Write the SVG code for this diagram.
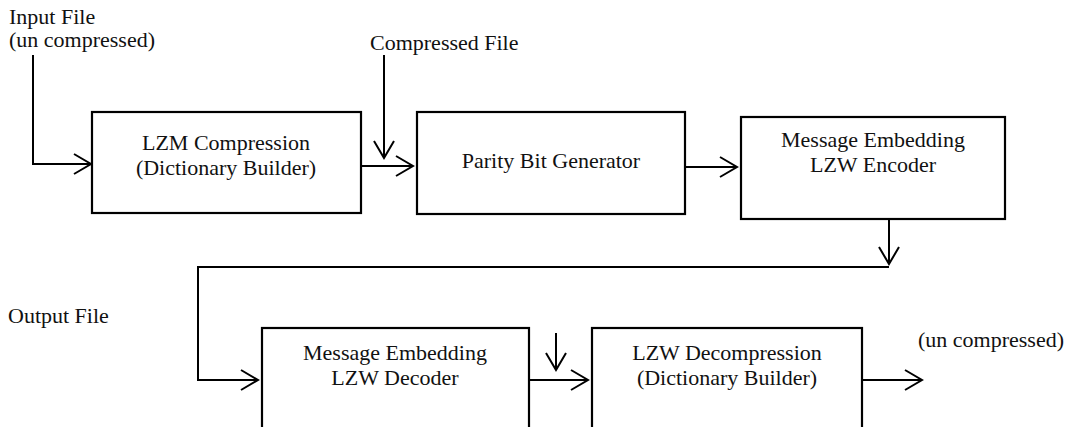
<svg xmlns="http://www.w3.org/2000/svg" width="1070" height="427" viewBox="0 0 1070 427">
  <style>
    .box { fill: #fff; stroke: #000; stroke-width: 2.2; }
    .wire { fill: none; stroke: #000; stroke-width: 2; }
    text { font-family: "Liberation Serif", "Times New Roman", serif; font-size: 22px; fill: #111; }
    .c { text-anchor: middle; }
  </style>
  <defs>
    <marker id="arrow" markerUnits="userSpaceOnUse" markerWidth="20" markerHeight="24" viewBox="-18 -12 20 24" refX="0" refY="0" orient="auto">
      <path d="M-17,-10 L0,0 L-17,10" fill="none" stroke="#000" stroke-width="2"/>
    </marker>
  </defs>
  <rect width="1070" height="427" fill="#fff"/>

  <!-- free labels -->
  <g id="labels">
    <text x="9" y="24">Input File</text>
    <text x="9" y="47">(un compressed)</text>
    <text x="370" y="50">Compressed File</text>
    <text x="8" y="323">Output File</text>
    <text x="918" y="347">(un compressed)</text>
  </g>

  <g id="lzm-compression">
    <rect class="box" x="92" y="112" width="269" height="101"/>
    <text class="c" x="226" y="150">LZM Compression</text>
    <text class="c" x="226" y="175">(Dictionary Builder)</text>
  </g>

  <g id="parity-bit-generator">
    <rect class="box" x="417" y="112" width="268" height="102"/>
    <text class="c" x="551" y="168">Parity Bit Generator</text>
  </g>

  <g id="lzw-encoder">
    <rect class="box" x="741" y="117" width="264" height="102"/>
    <text class="c" x="873" y="147">Message Embedding</text>
    <text class="c" x="873" y="172">LZW Encoder</text>
  </g>

  <g id="lzw-decoder">
    <rect class="box" x="262" y="328" width="267" height="120"/>
    <text class="c" x="395" y="360">Message Embedding</text>
    <text class="c" x="395" y="385">LZW Decoder</text>
  </g>

  <g id="lzw-decompression">
    <rect class="box" x="592" y="328" width="270" height="120"/>
    <text class="c" x="727" y="360">LZW Decompression</text>
    <text class="c" x="727" y="385">(Dictionary Builder)</text>
  </g>

  <g id="connectors">
    <polyline class="wire" points="33,55 33,164 91,164" marker-end="url(#arrow)"/>
    <line class="wire" x1="361" y1="166" x2="413" y2="166" marker-end="url(#arrow)"/>
    <line class="wire" x1="384" y1="55" x2="384" y2="158" marker-end="url(#arrow)"/>
    <line class="wire" x1="685" y1="167" x2="737" y2="167" marker-end="url(#arrow)"/>
    <line class="wire" x1="889" y1="219" x2="889" y2="264" marker-end="url(#arrow)"/>
    <polyline class="wire" points="889,267 198,267 198,380 258,380" marker-end="url(#arrow)"/>
    <line class="wire" x1="529" y1="380" x2="588" y2="380" marker-end="url(#arrow)"/>
    <line class="wire" x1="556" y1="333" x2="556" y2="370" marker-end="url(#arrow)"/>
    <line class="wire" x1="862" y1="380" x2="922" y2="380" marker-end="url(#arrow)"/>
  </g>
</svg>
